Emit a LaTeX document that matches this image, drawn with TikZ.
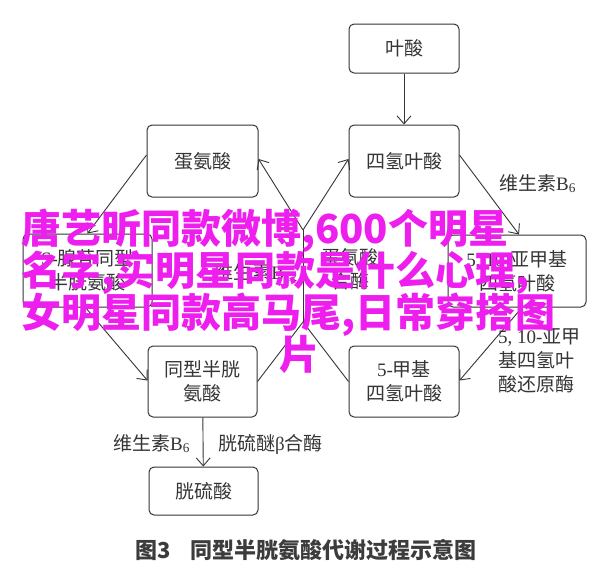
\documentclass[tikz,border=0pt]{standalone}
\usepackage{fontspec}
\setmainfont{Liberation Serif}
\newfontfamily\cjk{Noto Sans CJK SC}
\usetikzlibrary{arrows.meta}
\definecolor{ln}{HTML}{353535}
\definecolor{wm}{RGB}{238,30,238}
\definecolor{cap}{HTML}{3C3C3C}
\newcommand\zh[1]{{\cjk #1}}
\begin{document}
\begin{tikzpicture}[x=1pt,y=-1pt,
  box/.style={draw=ln, line width=1pt, rounded corners=5pt, inner sep=0pt, align=center, text=ln, font=\fontsize{19}{24}\selectfont},
  lab/.style={inner sep=0pt, text=ln, font=\fontsize{19}{24}\selectfont},
  conn/.style={draw=ln, line width=0.9pt},
  arr/.style={conn, -{Straight Barb[length=8pt,width=14pt]}},
  wmark/.style={inner sep=0pt, anchor=base west, text=wm, font=\cjk\bfseries\fontsize{40}{40}\selectfont},
  captxt/.style={inner sep=0pt, anchor=base west, text=cap, font=\cjk\bfseries\fontsize{22}{22}\selectfont}
]
\useasboundingbox (0,0) rectangle (600,574);
\fill[white] (0,0) rectangle (600,574);

% boxes
\node[box, minimum width=110pt, minimum height=49pt] (ye) at (404,48.5) {\zh{叶酸}};
\node[box, minimum width=110pt, minimum height=72pt] (thf) at (404,161) {\zh{四氢叶酸}};
\node[box, minimum width=111pt, minimum height=72pt] (met) at (202.5,161) {\zh{蛋氨酸}};
\node[box, minimum width=129pt, minimum height=73pt] (sah) at (87.5,270.5) {S-\zh{腺苷同型}\\\zh{半胱氨酸}};
\node[box, minimum width=138pt, minimum height=72pt] (mthf) at (517,271) {5, 10-\zh{亚甲基}\\\zh{四氢叶酸}};
\node[box, minimum width=109pt, minimum height=71pt] (hcy) at (202.5,381.5) {\zh{同型半胱}\\\zh{氨酸}};
\node[box, minimum width=110pt, minimum height=71pt] (m5) at (404,381.5) {5-\zh{甲基}\\\zh{四氢叶酸}};
\node[box, minimum width=109pt, minimum height=48pt] (cys) at (203.5,491) {\zh{胱硫酸}};

% junction points
\coordinate (top) at (303,230);
\coordinate (bot) at (303,322);

% connectors
\draw[arr] (ye) -- (thf);
\draw[arr] ([yshift=6pt]met.west) -- (sah.north);
\draw[arr] ([xshift=-2pt]sah.south) -- ([yshift=1pt]hcy.west);
\draw[conn] (hcy.east) -- (bot) -- (m5.west);
\draw[conn] (bot) -- (top);
\draw[arr] (top) -- ([yshift=2pt]met.east);
\draw[arr] (top) -- ([yshift=2pt]thf.west);
\draw[arr] ([yshift=6pt]thf.east) -- ([xshift=2pt]mthf.north);
\draw[arr] ([xshift=5pt]mthf.south) -- ([yshift=1pt]m5.east);
\draw[arr] (hcy) -- (cys);

% labels
\node[lab, anchor=base east] (b12) at (298,279) {\zh{维生素}B\textsubscript{12}};
\node[lab, align=center] (ms) at (350,269.5) {\zh{蛋氨酸}\\\zh{合酶}};
\node[lab, anchor=base west] (b6a) at (499,190) {\zh{维生素}B\textsubscript{6}};
\node[lab, anchor=north west, align=left] (mtr) at (498,328) {5, 10-\zh{亚甲}\\\zh{基四氢叶}\\\zh{酸还原酶}};
\node[lab, anchor=base west] (b6b) at (113,450) {\zh{维生素}B\textsubscript{6}};
\node[lab, anchor=base west] (cbs) at (218,450) {\zh{胱硫醚}β\zh{合酶}};

% caption
\node[captxt] (cap1) at (135,558) {图3};
\node[captxt] (cap2) at (190,558) {同型半胱氨酸代谢过程示意图};

% watermark
\node[wmark] (w1) at (21,243) {唐艺昕同款微博,600个明星};
\node[wmark] (w2) at (21,285) {名字,实明星同款是什么心理,};
\node[wmark] (w3) at (21,327) {女明星同款高马尾,日常穿搭图};
\node[wmark] (w4) at (279,369) {片};
\end{tikzpicture}
\end{document}
